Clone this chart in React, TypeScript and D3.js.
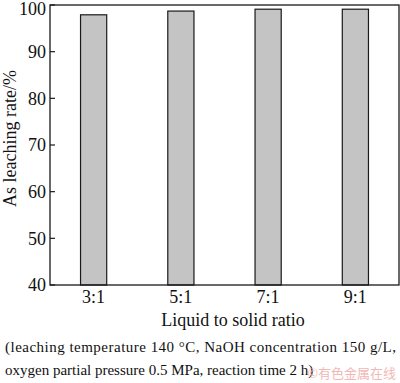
import React from "react";
import * as d3 from "d3";

const categories = ["3:1", "5:1", "7:1", "9:1"];
const leachingRate = [97.9, 98.7, 99.1, 99.1];
const yTicks = [40, 50, 60, 70, 80, 90, 100];
const xTitle = "Liquid to solid ratio";
const yTitle = "As leaching rate/%";
const caption1Words = ["(leaching", "temperature", "140", "°C,", "NaOH", "concentration", "150", "g/L,"];
const caption2 = "oxygen partial pressure 0.5 MPa, reaction time 2 h)";
const watermark = "©有色金属在线";

export default function App() {
  const W = 400, H = 383;
  const left = 50, right = 399, top = 5, bottom = 285;
  const x = d3.scaleBand<string>().domain(categories).range([left, right]).paddingInner(0.7).paddingOuter(0.35);
  const y = d3.scaleLinear().domain([40, 100]).range([bottom, top]);
  const font = "Liberation Serif, Times New Roman, serif";
  const cap1X0 = 5, cap1X1 = 396;
  return (
    <svg width={W} height={H} style={{ position: "absolute", left: 0, top: 0, background: "#fff", fontFamily: font }}>
      {categories.map((c, i) => (
        <rect key={c} x={x(c)!} y={y(leachingRate[i])} width={x.bandwidth()} height={y(40) - y(leachingRate[i])}
          fill="#c4c4c4" stroke="#1a1a1a" strokeWidth={1.2} />
      ))}
      <rect x={left} y={top} width={right - left} height={bottom - top} fill="none" stroke="#1a1a1a" strokeWidth={1.3} />
      {yTicks.map(t => (
        <g key={t}>
          <line x1={left} x2={left + 5} y1={y(t)} y2={y(t)} stroke="#1a1a1a" strokeWidth={1.2} />
          <text x={left - 4} y={y(t) + (t === 100 ? 4 : 0)} dy="0.35em" textAnchor="end" fontSize={18} fill="#111">{t}</text>
        </g>
      ))}
      {categories.map(c => (
        <text key={c} x={x(c)! + x.bandwidth() / 2} y={303} textAnchor="middle" fontSize={18} fill="#111">{c}</text>
      ))}
      <text x={233} y={326} textAnchor="middle" fontSize={18} fill="#111">{xTitle}</text>
      <text transform={`translate(16,138.5) rotate(-90)`} textAnchor="middle" fontSize={18} fill="#111"
        textLength={137} lengthAdjust="spacingAndGlyphs">{yTitle}</text>
      <text x={cap1X0} y={352} fontSize={15} fill="#111" textLength={cap1X1 - cap1X0} lengthAdjust="spacing">{caption1Words.join(" ")}</text>
      <text x={5} y={375} fontSize={15} fill="#111">{caption2}</text>
      <text x={396} y={378} textAnchor="end" fontSize={13} fill="#f2b8b8" fontFamily="Noto Sans CJK SC, sans-serif">{watermark}</text>
    </svg>
  );
}
